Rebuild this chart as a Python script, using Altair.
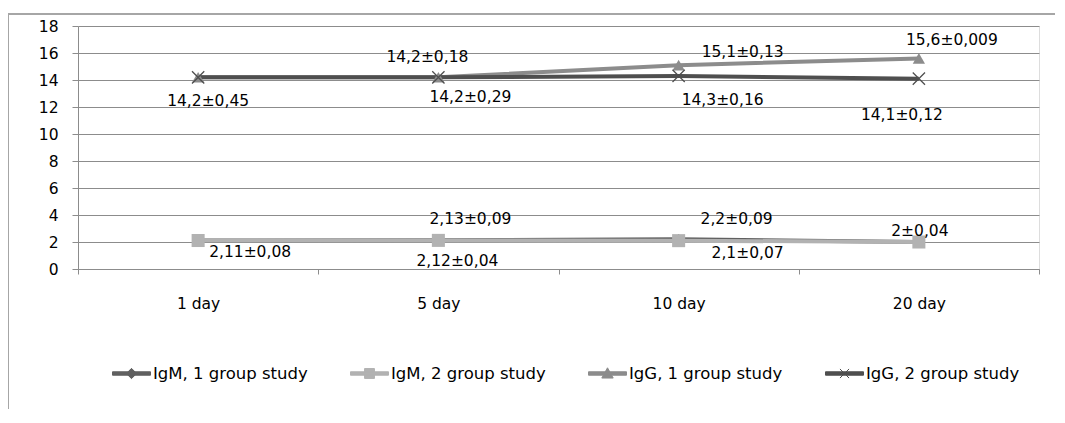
import altair as alt
import pandas as pd

# ---------------- data ----------------
days = ["1 day", "5 day", "10 day", "20 day"]
series_names = ["IgM, 1 group study", "IgM, 2 group study",
                "IgG, 1 group study", "IgG, 2 group study"]

igm_1 = [2.11, 2.13, 2.2, 2.0]
igm_2 = [2.11, 2.12, 2.1, 2.0]
igg_1 = [14.2, 14.2, 15.1, 15.6]
igg_2 = [14.2, 14.2, 14.3, 14.1]

igm_1_labels = ["2,11±0,08", "2,13±0,09", "2,2±0,09", "2±0,04"]
igm_2_labels = ["", "2,12±0,04", "2,1±0,07", ""]
igg_1_labels = ["", "14,2±0,18", "15,1±0,13", "15,6±0,009"]
igg_2_labels = ["14,2±0,45", "14,2±0,29", "14,3±0,16", "14,1±0,12"]

y_ticks = [0, 2, 4, 6, 8, 10, 12, 14, 16, 18]

all_values = [igm_1, igm_2, igg_1, igg_2]
all_labels = [igm_1_labels, igm_2_labels, igg_1_labels, igg_2_labels]

rows = []
for s, vals, labs in zip(series_names, all_values, all_labels):
    for d, v, l in zip(days, vals, labs):
        rows.append({"day": d, "series": s, "value": v, "label": l})
df = pd.DataFrame(rows)

# ---------------- styles ----------------
FONT = "DejaVu Sans"
FS = 15.5
colors = ["#606060", "#b2b2b2", "#8c8c8c", "#4f4f4f"]
point_shapes = ["diamond", "square", "triangle-up", "M-1,-1L1,1M-1,1L1,-1"]
point_sizes = [110, 170, 150, 150]
point_filled = [True, True, True, False]

# label placement (pixel offsets from their data point), per series / day
label_offsets = {
    ("IgG, 2 group study", "1 day"): (10, 24),
    ("IgG, 1 group study", "5 day"): (-11, -20),
    ("IgG, 2 group study", "5 day"): (32, 20),
    ("IgG, 1 group study", "10 day"): (64, -13),
    ("IgG, 2 group study", "10 day"): (44, 24),
    ("IgG, 1 group study", "20 day"): (33, -18),
    ("IgG, 2 group study", "20 day"): (-17, 36),
    ("IgM, 1 group study", "1 day"): (52, 11),
    ("IgM, 1 group study", "5 day"): (32, -21),
    ("IgM, 2 group study", "5 day"): (19, 21),
    ("IgM, 1 group study", "10 day"): (58, -20),
    ("IgM, 2 group study", "10 day"): (69, 12),
    ("IgM, 1 group study", "20 day"): (1, -11),
}

# legend symbols: thick line segment + marker, in Vega's [-1,1] unit square
legend_shapes = [
    "M-1,-0.09H1V0.09H-1Z M0,-0.27L0.27,0L0,0.27L-0.27,0Z",
    "M-1,-0.09H1V0.09H-1Z M-0.26,-0.26H0.26V0.26H-0.26Z",
    "M-1,-0.09H1V0.09H-1Z M0,-0.3L0.3,0.24H-0.3Z",
    "M-1,-0.09H1V0.09H-1Z M-0.24,-0.24L0.24,0.24M-0.24,0.24L0.24,-0.24",
]

W, H = 961, 243

x_scale = alt.Scale(domain=days, type="band", paddingInner=0, paddingOuter=0)
y_scale = alt.Scale(domain=[0, 18], nice=False)

x_axis = alt.Axis(title=None, labelAngle=0, tickBand="extent", tickSize=5,
                  labelPadding=22, domainColor="#8c8c8c", tickColor="#8c8c8c",
                  labelFont=FONT, labelFontSize=FS, labelColor="black",
                  grid=False, domainWidth=1)
y_axis = alt.Axis(title=None, values=y_ticks, grid=True, gridColor="#8c8c8c",
                  gridWidth=1, tickSize=6, tickColor="#8c8c8c",
                  domainColor="#8c8c8c", labelPadding=14, labelFont=FONT,
                  labelFontSize=FS, labelColor="black", labelOverlap=False)

X = alt.X("day:N", scale=x_scale, axis=x_axis, sort=days)
Y = alt.Y("value:Q", scale=y_scale, axis=y_axis)

base = alt.Chart(df)
layers = []

# frame lines (decoration)
frame_top = alt.Chart(df).mark_rule(color="#a6a6a6", strokeWidth=1.5).encode(
    x=alt.value(-70), x2=alt.value(1000), y=alt.value(-12))
frame_left = alt.Chart(df).mark_rule(color="#a6a6a6", strokeWidth=1.5).encode(
    x=alt.value(-70), y=alt.value(-12), y2=alt.value(420))
layers += [frame_top, frame_left]

# axes carrier (grid + axes)
layers.append(base.mark_point(opacity=0).encode(x=X, y=Y))

for i, s in enumerate(series_names):
    sub = base.transform_filter(alt.datum.series == s)
    layers.append(sub.mark_line(color=colors[i], strokeWidth=4).encode(x=X, y=Y))

for i, s in enumerate(series_names):
    sub = base.transform_filter(alt.datum.series == s)
    if point_filled[i]:
        pt = sub.mark_point(shape=point_shapes[i], filled=True, size=point_sizes[i],
                            color=colors[i], opacity=1)
    else:
        pt = sub.mark_point(shape=point_shapes[i], filled=False, size=point_sizes[i],
                            color=colors[i], strokeWidth=1.3, opacity=1)
    layers.append(pt.encode(x=X, y=Y))

for (s, d), (dx, dy) in label_offsets.items():
    t = base.transform_filter((alt.datum.series == s) & (alt.datum.day == d)).mark_text(
        font=FONT, fontSize=FS, color="black", dx=dx, dy=dy,
        align="center", baseline="middle").encode(x=X, y=Y, text="label:N")
    layers.append(t)

leg = alt.Legend(title=None, orient="none", legendX=34, legendY=328,
                 direction="horizontal", symbolSize=1444, symbolStrokeWidth=1,
                 labelFont=FONT, labelFontSize=16.5, labelColor="black",
                 columnPadding=40, labelOffset=2, symbolOpacity=1)

legend_layer = base.transform_filter("false").mark_point(filled=True, opacity=1).encode(
    x=X, y=Y,
    fill=alt.Fill("series:N", scale=alt.Scale(domain=series_names, range=colors), legend=leg),
    stroke=alt.Stroke("series:N", scale=alt.Scale(domain=series_names, range=colors), legend=leg),
    shape=alt.Shape("series:N", scale=alt.Scale(domain=series_names, range=legend_shapes), legend=leg),
)
layers.append(legend_layer)

chart = alt.layer(*layers).properties(
    width=W, height=H,
    autosize=alt.AutoSizeParams(type="none"),
    padding={"left": 70, "top": 18, "right": 16, "bottom": 140},
).configure_view(stroke=None).configure(background="white")

chart.save("out.html", embed_options={"renderer": "svg", "actions": False})
